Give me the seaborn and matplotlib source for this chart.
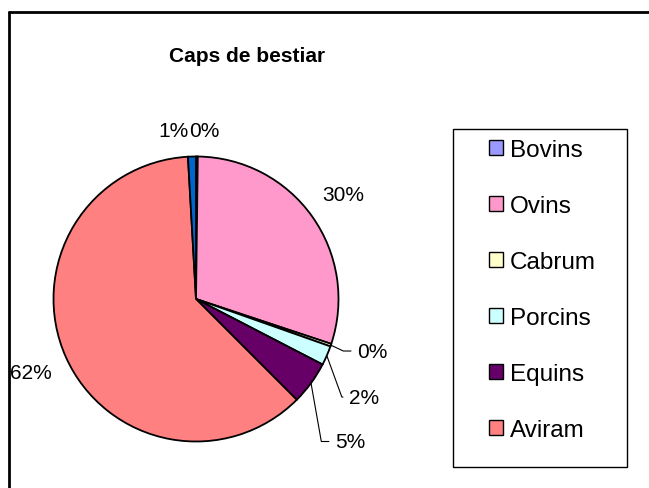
import matplotlib
matplotlib.use("Agg")
import matplotlib.pyplot as plt
import seaborn as sns
import numpy as np
from matplotlib.patches import Patch, Rectangle
from matplotlib.lines import Line2D

# data (last slice has no legend entry in the original)
categories = ["Bovins", "Ovins", "Cabrum", "Porcins", "Equins", "Aviram", ""]
values = [0.2, 29.9, 0.3, 2.2, 4.9, 61.6, 0.9]
slice_colors = ["#9999FF", "#FF99CC", "#FFFFCC", "#CCFFFF", "#660066", "#FF8080", "#0066CC"]
title = "Caps de bestiar"

sns.set_theme(style="white")
plt.rcParams["font.family"] = ["Liberation Sans", "DejaVu Sans"]
plt.rcParams["text.color"] = "black"

W, H = 649, 489
fig = plt.figure(figsize=(W / 100, H / 100), dpi=100)

# pie axes: centre (196, 300) px, radius 142.5 px
cx, cy, r = 196, 300, 142.5
ax = fig.add_axes([(cx - r) / W, (H - cy - r) / H, 2 * r / W, 2 * r / H])
wedges, _ = ax.pie(values, colors=slice_colors, startangle=90, counterclock=False,
                   radius=1.0, wedgeprops=dict(edgecolor="black", linewidth=1.3))
ax.set_xlim(-1, 1)
ax.set_ylim(-1, 1)
ax.set_aspect("equal")
ax.axis("off")

total = sum(values)
pct = [f"{v / total * 100:.0f}%" for v in values]
fs = 15

# leader-line labels: text position (data units) and elbow angle
leader = {2: ((1.13, -0.365), -25), 3: ((1.074, -0.688), -70), 4: ((0.975, -1.0), -80)}

for i, w in enumerate(wedges):
    mid = np.deg2rad((w.theta1 + w.theta2) / 2)
    ux, uy = np.cos(mid), np.sin(mid)
    if i in leader:
        (tx, ty), angb = leader[i]
        ax.annotate(pct[i], xy=(ux, uy), xytext=(tx, ty),
                    ha="left", va="center", fontsize=fs, annotation_clip=False,
                    arrowprops=dict(arrowstyle="-", color="black", lw=0.8,
                                    shrinkA=2, shrinkB=0,
                                    connectionstyle=f"angle,angleA=0,angleB={angb},rad=0"))
    elif i == 0:
        ax.text(ux * 1.18 - 0.055, uy * 1.18, pct[i], ha="left", va="center", fontsize=fs)
    elif i == 6:
        ax.text(ux * 1.18 - 0.02, uy * 1.18, pct[i], ha="right", va="center", fontsize=fs)
    else:
        ax.text(ux * 1.27, uy * 1.27, pct[i], ha="center", va="center", fontsize=fs)

fig.text(247 / W, 1 - 56 / H, title, ha="center", va="center",
         fontsize=15, fontweight="bold")

# legend
handles = [Patch(facecolor=c, edgecolor="black", linewidth=1.0)
           for c in ["#9999FF", "#FF99CC", "#FFFFCC", "#CCFFFF", "#660066", "#FF8080"]]
fig.legend(handles, categories[:6], loc="upper left",
           bbox_to_anchor=(489 / W, 1 - 140 / H), frameon=False,
           fontsize=17.5, borderpad=0, borderaxespad=0, labelspacing=1.4,
           handlelength=0.56, handleheight=0.56, handletextpad=0.29)
fig.add_artist(Rectangle((453 / W, 1 - 468 / H), 174 / W, 338 / H,
                         transform=fig.transFigure, fill=False,
                         edgecolor="black", linewidth=1.0))

# outer chart frame (cropped at right and bottom)
fig.add_artist(Line2D([9 / W, 9 / W], [0, 1 - 13 / H], transform=fig.transFigure,
                      color="black", lw=2))
fig.add_artist(Line2D([9 / W, 1], [1 - 13 / H, 1 - 13 / H], transform=fig.transFigure,
                      color="black", lw=2))

fig.savefig("out.png", dpi=100)
